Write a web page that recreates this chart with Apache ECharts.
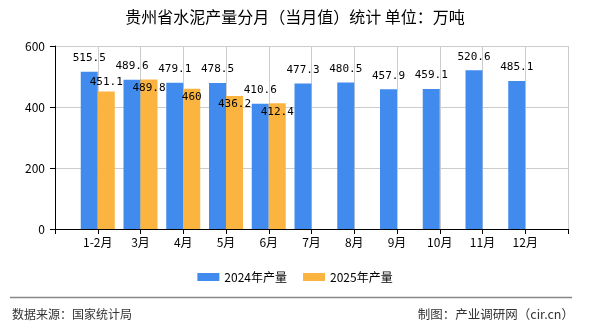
<!DOCTYPE html>
<html>
<head>
<meta charset="utf-8">
<script src="https://cdn.jsdelivr.net/npm/echarts@6/dist/echarts.min.js"></script>
<style>
  html, body { margin: 0; padding: 0; background: #fff; }
  #chart { width: 590px; height: 330px; }
</style>
</head>
<body>
<div id="chart"></div>
<script>
// ---- data ----
var categories = ['1-2月', '3月', '4月', '5月', '6月', '7月', '8月', '9月', '10月', '11月', '12月'];
var values2024 = [515.5, 489.6, 479.1, 478.5, 410.6, 477.3, 480.5, 457.9, 459.1, 520.6, 485.1];
var values2025 = [451.1, 489.8, 460, 436.2, 412.4, null, null, null, null, null, null];
var yTicks = [0, 200, 400, 600];
var seriesNames = ['2024年产量', '2025年产量'];
var titleText = '贵州省水泥产量分月（当月值）统计 单位：万吨';
var sourceText = '数据来源：国家统计局';
var creditText = '制图：产业调研网（cir.cn）';

// label vertical shifts for 2025 series (style only)
var label2025Shift = [-10, 8, 8, 8, 8];

var axisData = [''].concat(categories).concat(['']);
var s2024 = [null].concat(values2024).concat([null]);
var s2025 = [null].concat(values2025.map(function (v, i) {
  if (v === null) return null;
  var sh = label2025Shift[i] !== undefined ? label2025Shift[i] : 8;
  return { value: v, label: { offset: [0, sh + 6] } };
})).concat([null]);

var chart = echarts.init(document.getElementById('chart'));
var cjk = 'Noto Sans CJK SC';
chart.setOption({
  animation: false,
  backgroundColor: '#fff',
  title: {
    text: titleText,
    left: 'center',
    top: 4,
    textStyle: { fontSize: 16, fontWeight: 'normal', color: '#000', fontFamily: cjk }
  },
  legend: {
    data: seriesNames,
    left: 'center',
    top: 266,
    itemWidth: 22,
    itemHeight: 8,
    itemGap: 16,
    icon: 'rect',
    textStyle: { fontSize: 12, color: '#000', fontFamily: cjk }
  },
  grid: { left: 55, right: 22, top: 46, bottom: 101, containLabel: false },
  xAxis: {
    type: 'category',
    data: axisData,
    boundaryGap: false,
    axisLine: { lineStyle: { color: '#000' } },
    axisTick: { show: true, length: 5, lineStyle: { color: '#000' } },
    axisLabel: { color: '#000', fontSize: 12, margin: 7, fontFamily: cjk, interval: 0 },
    splitLine: { show: true, lineStyle: { color: '#ccc' } }
  },
  yAxis: {
    type: 'value',
    min: yTicks[0],
    max: yTicks[yTicks.length - 1],
    interval: yTicks[1] - yTicks[0],
    axisLine: { show: true, lineStyle: { color: '#000' } },
    axisTick: { show: true, length: 5, lineStyle: { color: '#000' } },
    axisLabel: { color: '#000', fontSize: 12, margin: 10, fontFamily: cjk },
    splitLine: { show: true, lineStyle: { color: '#ccc' } }
  },
  series: [
    {
      name: seriesNames[0],
      type: 'bar',
      data: s2024,
      barWidth: 17,
      barGap: '0%',
      itemStyle: { color: '#428BEE' },
      label: {
        show: true, position: 'top', distance: 8,
        color: '#000', fontSize: 11, fontFamily: 'DejaVu Sans Mono'
      }
    },
    {
      name: seriesNames[1],
      type: 'bar',
      data: s2025,
      barWidth: 17,
      barGap: '0%',
      itemStyle: { color: '#FBB440' },
      label: {
        show: true, position: 'top', distance: 0,
        color: '#000', fontSize: 11, fontFamily: 'DejaVu Sans Mono'
      }
    }
  ],
  graphic: [
    {
      type: 'line',
      shape: { x1: 10, y1: 297.5, x2: 572, y2: 297.5 },
      style: { stroke: '#888', lineWidth: 1.5 }
    },
    {
      type: 'text',
      left: 12,
      top: 308,
      style: { text: sourceText, fontSize: 12, fill: '#333', fontFamily: cjk }
    },
    {
      type: 'text',
      right: 16,
      top: 308,
      style: { text: creditText, fontSize: 12.5, fill: '#333', fontFamily: cjk }
    }
  ]
});
</script>
</body>
</html>
